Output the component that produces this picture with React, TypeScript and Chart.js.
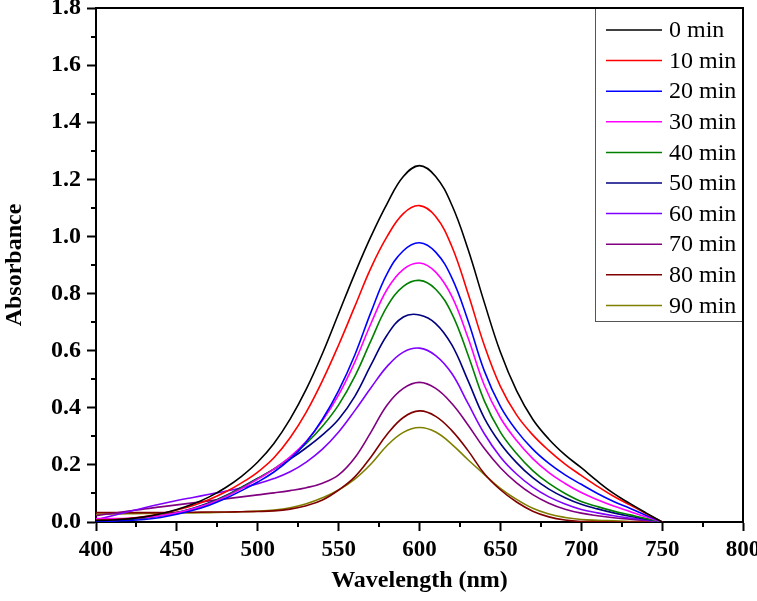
import React, { useEffect, useRef } from "react";
import { Chart, registerables } from "chart.js";

Chart.register(...registerables);

// ---- data ----
const wavelengths = [400, 410, 420, 430, 440, 450, 460, 470, 480, 490, 500, 510, 520, 530, 540, 550, 560, 570, 580, 590, 600, 610, 620, 630, 640, 650, 660, 670, 680, 690, 700, 710, 720, 730, 740, 750];

const seriesLabels = ["0 min", "10 min", "20 min", "30 min", "40 min", "50 min", "60 min", "70 min", "80 min", "90 min"];
const seriesColors = ["#000000", "#ff0000", "#0000ff", "#ff00ff", "#008000", "#000080", "#8000ff", "#800080", "#800000", "#808000"];

const min0 = [0.005, 0.007, 0.011, 0.018, 0.029, 0.044, 0.063, 0.088, 0.12, 0.16, 0.21, 0.275, 0.36, 0.465, 0.59, 0.73, 0.87, 1.0, 1.115, 1.21, 1.248, 1.21, 1.11, 0.955, 0.77, 0.595, 0.46, 0.36, 0.29, 0.235, 0.19, 0.143, 0.10, 0.065, 0.032, 0];
const min10 = [0.006, 0.008, 0.012, 0.019, 0.029, 0.042, 0.058, 0.079, 0.105, 0.137, 0.175, 0.225, 0.295, 0.385, 0.495, 0.62, 0.755, 0.89, 1.0, 1.08, 1.108, 1.07, 0.965, 0.80, 0.62, 0.475, 0.375, 0.305, 0.25, 0.203, 0.163, 0.125, 0.09, 0.06, 0.03, 0];
const min20 = [0.003, 0.003, 0.005, 0.009, 0.016, 0.027, 0.041, 0.059, 0.082, 0.11, 0.14, 0.175, 0.22, 0.28, 0.36, 0.46, 0.585, 0.735, 0.87, 0.95, 0.978, 0.945, 0.855, 0.705, 0.53, 0.405, 0.32, 0.255, 0.205, 0.165, 0.132, 0.10, 0.072, 0.048, 0.024, 0];
const min30 = [0.012, 0.012, 0.013, 0.016, 0.022, 0.032, 0.046, 0.064, 0.088, 0.117, 0.15, 0.185, 0.228, 0.283, 0.355, 0.445, 0.56, 0.695, 0.815, 0.885, 0.907, 0.875, 0.79, 0.645, 0.48, 0.365, 0.285, 0.222, 0.173, 0.135, 0.103, 0.078, 0.056, 0.037, 0.018, 0];
const min40 = [0.008, 0.009, 0.011, 0.015, 0.022, 0.032, 0.046, 0.065, 0.09, 0.12, 0.152, 0.186, 0.226, 0.275, 0.335, 0.41, 0.51, 0.635, 0.755, 0.825, 0.846, 0.815, 0.73, 0.585, 0.425, 0.315, 0.24, 0.18, 0.135, 0.10, 0.072, 0.054, 0.038, 0.025, 0.012, 0];
const min50 = [0.005, 0.006, 0.009, 0.014, 0.022, 0.033, 0.048, 0.067, 0.092, 0.122, 0.153, 0.185, 0.22, 0.26, 0.305, 0.36, 0.44, 0.55, 0.655, 0.718, 0.725, 0.695, 0.62, 0.495, 0.365, 0.275, 0.208, 0.155, 0.115, 0.085, 0.062, 0.046, 0.032, 0.02, 0.01, 0];
const min60 = [0.008, 0.022, 0.036, 0.050, 0.063, 0.075, 0.086, 0.097, 0.108, 0.12, 0.134, 0.152, 0.176, 0.21, 0.255, 0.315, 0.39, 0.47, 0.545, 0.595, 0.609, 0.583, 0.52, 0.415, 0.31, 0.228, 0.168, 0.122, 0.088, 0.063, 0.044, 0.032, 0.022, 0.014, 0.007, 0];
const min70 = [0.022, 0.030, 0.038, 0.046, 0.053, 0.060, 0.067, 0.074, 0.081, 0.088, 0.095, 0.102, 0.11, 0.12, 0.136, 0.165, 0.225, 0.315, 0.41, 0.468, 0.489, 0.468, 0.415, 0.34, 0.258, 0.19, 0.137, 0.096, 0.066, 0.045, 0.031, 0.022, 0.015, 0.01, 0.005, 0];
const min80 = [0.033, 0.033, 0.033, 0.033, 0.033, 0.034, 0.034, 0.035, 0.035, 0.036, 0.037, 0.039, 0.045, 0.057, 0.077, 0.112, 0.158, 0.228, 0.307, 0.366, 0.389, 0.37, 0.32, 0.25, 0.17, 0.113, 0.07, 0.038, 0.018, 0.007, 0.002, 0.001, 0, 0, 0, 0];
const min90 = [0.027, 0.028, 0.029, 0.030, 0.030, 0.031, 0.032, 0.033, 0.034, 0.036, 0.038, 0.042, 0.05, 0.064, 0.085, 0.112, 0.15, 0.203, 0.268, 0.314, 0.331, 0.315, 0.272, 0.218, 0.167, 0.118, 0.079, 0.048, 0.028, 0.016, 0.009, 0.006, 0.004, 0.002, 0.001, 0];

const seriesValues = [min0, min10, min20, min30, min40, min50, min60, min70, min80, min90];

const xTicks = [400, 450, 500, 550, 600, 650, 700, 750, 800];
const yTicks = [0, 0.2, 0.4, 0.6, 0.8, 1.0, 1.2, 1.4, 1.6, 1.8];
const xMinorTicks = [425, 475, 525, 575, 625, 675, 725, 775];
const yMinorTicks = [0.1, 0.3, 0.5, 0.7, 0.9, 1.1, 1.3, 1.5, 1.7];

const FONT = "'Liberation Serif', 'Times New Roman', serif";

const decorPlugin = {
  id: "decor",
  afterDraw(chart: any) {
    const { ctx, chartArea: ca, scales } = chart;
    ctx.save();
    // legend box
    const boxW = 148;
    const boxH = 314;
    const bx = ca.right - boxW;
    const by = ca.top;
    ctx.fillStyle = "#ffffff";
    ctx.fillRect(bx, by, boxW, boxH);
    ctx.strokeStyle = "#555555";
    ctx.lineWidth = 1;
    ctx.strokeRect(bx + 0.5, by + 0.5, boxW - 1, boxH - 1);
    ctx.font = "24px " + FONT;
    ctx.textBaseline = "middle";
    ctx.textAlign = "left";
    chart.data.datasets.forEach((ds: any, i: number) => {
      const y = by + 22 + i * 30.6;
      ctx.strokeStyle = ds.borderColor;
      ctx.lineWidth = 1.5;
      ctx.beginPath();
      ctx.moveTo(bx + 11, y);
      ctx.lineTo(bx + 67, y);
      ctx.stroke();
      ctx.fillStyle = "#000";
      ctx.fillText(ds.label, bx + 74, y + 1);
    });
    // frame top/right
    ctx.strokeStyle = "#000";
    ctx.lineWidth = 2;
    ctx.beginPath();
    ctx.moveTo(ca.left, ca.top);
    ctx.lineTo(ca.right, ca.top);
    ctx.lineTo(ca.right, ca.bottom);
    ctx.stroke();
    // minor ticks
    ctx.beginPath();
    for (const v of xMinorTicks) {
      const px = Math.round(scales.x.getPixelForValue(v));
      ctx.moveTo(px, ca.bottom);
      ctx.lineTo(px, ca.bottom + 5);
    }
    for (const v of yMinorTicks) {
      const py = Math.round(scales.y.getPixelForValue(v));
      ctx.moveTo(ca.left, py);
      ctx.lineTo(ca.left - 5, py);
    }
    ctx.stroke();
    ctx.restore();
  },
};

export default function App() {
  const ref = useRef<HTMLCanvasElement>(null);
  useEffect(() => {
    document.body.style.margin = "0";
    const canvas = ref.current!;
    const chart = new Chart(canvas, {
      type: "line",
      data: {
        datasets: seriesValues.map((vals, i) => ({
          label: seriesLabels[i],
          data: vals.map((v, j) => ({ x: wavelengths[j], y: v })),
          borderColor: seriesColors[i],
          backgroundColor: seriesColors[i],
          borderWidth: 1.6,
          pointRadius: 0,
          fill: false,
          tension: 0.4,
        })),
      },
      options: {
        responsive: false,
        animation: false,
        devicePixelRatio: 1,
        layout: { padding: { left: 0, right: 14, top: 8, bottom: 0 } },
        plugins: { legend: { display: false }, tooltip: { enabled: false } },
        scales: {
          x: {
            type: "linear",
            min: 400,
            max: 800,
            afterBuildTicks: (s: any) => {
              s.ticks = xTicks.map((v) => ({ value: v }));
            },
            afterFit: (s: any) => {
              s.height = 79;
              s.paddingLeft = 0;
              s.paddingRight = 0;
            },
            border: { display: true, color: "#000", width: 2 },
            grid: { drawOnChartArea: false, drawTicks: true, tickLength: 9, tickColor: "#000", tickWidth: 2, color: "#000" },
            ticks: {
              autoSkip: false,
              maxRotation: 0,
              minRotation: 0,
              padding: 5,
              color: "#000",
              font: { family: FONT, size: 23, weight: "bold" },
              callback: (v: any) => String(v),
            },
            title: {
              display: true,
              text: "Wavelength (nm)",
              color: "#000",
              font: { family: FONT, size: 24, weight: "bold" },
              padding: { top: 0, bottom: 6 },
            },
          },
          y: {
            type: "linear",
            min: 0,
            max: 1.8,
            afterBuildTicks: (s: any) => {
              s.ticks = yTicks.map((v) => ({ value: v }));
            },
            afterFit: (s: any) => {
              s.width = 96;
              s.paddingTop = 0;
              s.paddingBottom = 0;
            },
            border: { display: true, color: "#000", width: 2 },
            grid: { drawOnChartArea: false, drawTicks: true, tickLength: 9, tickColor: "#000", tickWidth: 2, color: "#000" },
            ticks: {
              padding: 6,
              color: "#000",
              font: { family: FONT, size: 24, weight: "bold" },
              callback: (v: any) => Number(v).toFixed(1),
            },
            title: {
              display: true,
              text: "Absorbance",
              color: "#000",
              font: { family: FONT, size: 24, weight: "bold" },
              padding: { top: 0, bottom: 0 },
            },
          },
        },
      },
      plugins: [decorPlugin],
    });
    return () => chart.destroy();
  }, []);
  return (
    <div style={{ position: "fixed", left: 0, top: 0, width: 757, height: 601, background: "#fff" }}>
      <canvas ref={ref} width={757} height={601} style={{ display: "block", width: 757, height: 601 }} />
    </div>
  );
}
